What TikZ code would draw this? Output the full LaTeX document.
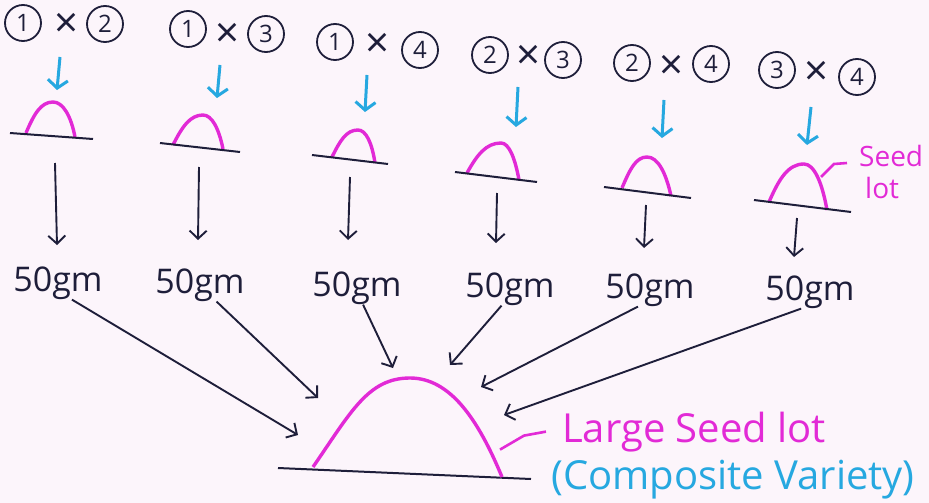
\documentclass[tikz,border=0pt]{standalone}
\usepackage{fontspec}
\setmainfont{Open Sans}
\usetikzlibrary{arrows.meta,calc}

\definecolor{ink}{RGB}{30,30,58}
\definecolor{seedpink}{RGB}{226,42,214}
\definecolor{crossblue}{RGB}{38,168,224}
\definecolor{paper}{RGB}{252,245,251}

\tikzset{
    parentcirc/.style={draw=ink, circle, line width=1.8pt, minimum size=36pt, inner sep=0pt,
        text=ink, font=\fontsize{24}{24}\selectfont},
    crosssign/.style={text=ink, inner sep=0pt, font=\fontsize{42}{42}\selectfont},
    yieldtext/.style={text=ink, inner sep=0pt, font=\fontsize{34}{34}\selectfont},
    inkarrow/.style={ink, line width=1.9pt, -{Straight Barb[length=8pt,width=17pt]}},
    bluearrow/.style={crossblue, line width=3pt, -{Straight Barb[length=8pt,width=20pt]}},
    humpline/.style={seedpink, line width=3.4pt},
    groundline/.style={ink, line width=2pt},
    leader/.style={seedpink, line width=2.6pt},
}

\begin{document}
\begin{tikzpicture}[x=1pt, y=-1pt]

    % Paper
    \fill[paper] (0,0) rectangle (929,503);
    \useasboundingbox (0,0) rectangle (929,503);

    % Column 1: 1 x 2
    \node[parentcirc] (p1a) at (23,23) {1};
    \node[crosssign] (x1) at (67,25) {×};
    \node[parentcirc] (p1b) at (105,24) {2};
    \coordinate (B1) at (60,57);   \coordinate (E1) at (57,90);
    \coordinate (L1) at (26,133);  \coordinate (P1) at (53,102);  \coordinate (R1) at (75,137);
    \coordinate (GL1) at (10,133); \coordinate (GR1) at (93,139);
    \coordinate (S1) at (55,163);  \coordinate (D1) at (57,245);
    \node[yieldtext] (G1) at (58,283) {50gm};

    % Column 2: 1 x 3
    \node[parentcirc] (p2a) at (188,29) {1};
    \node[crosssign] (x2) at (228,35) {×};
    \node[parentcirc] (p2b) at (266,34) {3};
    \coordinate (B2) at (220,65);   \coordinate (E2) at (217,98);
    \coordinate (L2) at (173,145);  \coordinate (P2) at (203,115);  \coordinate (R2) at (223,149);
    \coordinate (GL2) at (160,143); \coordinate (GR2) at (240,152);
    \coordinate (S2) at (199,167);  \coordinate (D2) at (198,240);
    \node[yieldtext] (G2) at (200,285) {50gm};

    % Column 3: 1 x 4
    \node[parentcirc] (p3a) at (335,42) {1};
    \node[crosssign] (x3) at (378,45) {×};
    \node[parentcirc] (p3b) at (420,50) {4};
    \coordinate (B3) at (367,75);   \coordinate (E3) at (365,112);
    \coordinate (L3) at (332,157);  \coordinate (P3) at (358,130);  \coordinate (R3) at (375,163);
    \coordinate (GL3) at (312,155); \coordinate (GR3) at (388,164);
    \coordinate (S3) at (350,177);  \coordinate (D3) at (348,240);
    \node[yieldtext] (G3) at (357,288) {50gm};

    % Column 4: 2 x 3
    \node[parentcirc] (p4a) at (490,55) {2};
    \node[crosssign] (x4) at (529,57) {×};
    \node[parentcirc] (p4b) at (563,60) {3};
    \coordinate (B4) at (518,87);   \coordinate (E4) at (516,127);
    \coordinate (L4) at (467,173);  \coordinate (P4) at (501,143);  \coordinate (R4) at (519,180);
    \coordinate (GL4) at (455,172); \coordinate (GR4) at (537,182);
    \coordinate (S4) at (497,193);  \coordinate (D4) at (496,243);
    \node[yieldtext] (G4) at (510,289) {50gm};

    % Column 5: 2 x 4
    \node[parentcirc] (p5a) at (632,63) {2};
    \node[crosssign] (x5) at (671,67) {×};
    \node[parentcirc] (p5b) at (711,64) {4};
    \coordinate (B5) at (664,100);  \coordinate (E5) at (662,138);
    \coordinate (L5) at (622,188);  \coordinate (P5) at (647,157);  \coordinate (R5) at (671,196);
    \coordinate (GL5) at (604,187); \coordinate (GR5) at (691,198);
    \coordinate (S5) at (646,205);  \coordinate (D5) at (644,248);
    \node[yieldtext] (G5) at (650,290) {50gm};

    % Column 6: 3 x 4
    \node[parentcirc] (p6a) at (777,70) {3};
    \node[crosssign] (x6) at (816,73) {×};
    \node[parentcirc] (p6b) at (857,77) {4};
    \coordinate (B6) at (811,107);  \coordinate (E6) at (807,145);
    \coordinate (L6) at (769,202);  \coordinate (P6) at (804,164);  \coordinate (R6) at (827,210);
    \coordinate (GL6) at (754,200); \coordinate (GR6) at (851,212);
    \coordinate (S6) at (797,218);  \coordinate (D6) at (794,257);
    \node[yieldtext] (G6) at (810,292) {50gm};

    % Small seed lots
    \draw[humpline] (L1) .. controls +(8,-19) and +(-12,0) .. (P1) .. controls +(10,0) and +(-4,-21) .. (R1);
    \draw[humpline] (L2) .. controls +(9,-18) and +(-13,0) .. (P2) .. controls +(9,0) and +(-4,-20) .. (R2);
    \draw[humpline] (L3) .. controls +(8,-16) and +(-12,0) .. (P3) .. controls +(8,0) and +(-3,-20) .. (R3);
    \draw[humpline] (L4) .. controls +(10,-18) and +(-15,0) .. (P4) .. controls +(8,0) and +(-4,-22) .. (R4);
    \draw[humpline] (L5) .. controls +(8,-19) and +(-11,0) .. (P5) .. controls +(11,0) and +(-5,-23) .. (R5);
    \draw[humpline] (L6) .. controls +(10,-23) and +(-16,0) .. (P6) .. controls +(10,0) and +(-5,-28) .. (R6);

    % Ground lines, crossing arrows and harvest arrows
    \foreach \i in {1,...,6} {
        \draw[groundline] (GL\i) -- (GR\i);
        \draw[bluearrow] (B\i) -- (E\i);
        \draw[inkarrow] (S\i) -- (D\i);
    }

    % Seed lot label
    \node[text=seedpink, inner sep=0pt, anchor=north west, align=left,
        font=\fontsize{28}{32}\selectfont] (seedlot) at (859,145) {Seed\\\hspace{6pt}lot};
    \draw[leader] (seedlot.north west) ++(-12,18) -- ++(-13,1) -- ++(-13,13);

    % Large seed lot (bulk of all crosses)
    \coordinate (LL) at (313,467); \coordinate (LP) at (410,378); \coordinate (LR) at (502,477);
    \draw[groundline] (278,468) -- (531,479);
    \draw[humpline] (LL) .. controls +(38,-55) and +(-42,0) .. (LP) .. controls +(40,0) and +(-24,-58) .. (LR);

    % Arrow tips around the large seed lot
    \coordinate (T1) at (298,435);
    \coordinate (T2) at (318,398);
    \coordinate (T3) at (393,368);
    \coordinate (T4) at (450,365);
    \coordinate (T5) at (481,387);
    \coordinate (T6) at (504,415);
    \foreach \i/\ang in {1/-50,2/-45,3/-70,4/-117,5/-126,6/-118} {
        \draw[inkarrow] (G\i.\ang) -- (T\i);
    }

    % Labels
    \node[text=seedpink, inner sep=0pt, anchor=base west, font=\fontsize{40}{40}\selectfont]
        (bigname) at (562,442) {Large Seed lot};
    \node[text=crossblue, inner sep=0pt, anchor=base west, font=\fontsize{40}{40}\selectfont]
        (bigtype) at (551,489) {(Composite Variety)};
    \draw[leader] ([xshift=-16pt]bigname.west) -- ++(-22,4) -- ++(-24,14);

\end{tikzpicture}
\end{document}
